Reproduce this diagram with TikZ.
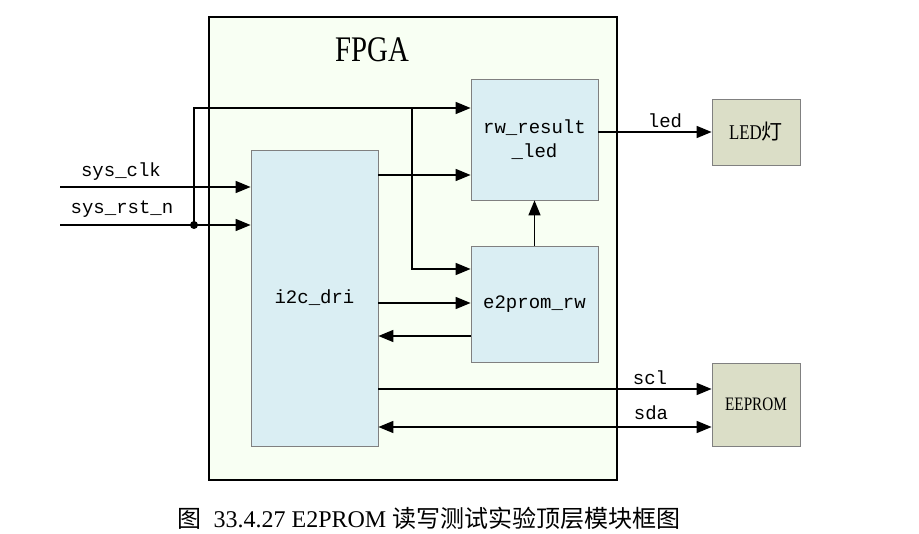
\documentclass[tikz,border=0pt]{standalone}
\usepackage{fontspec}
\setmainfont{Liberation Serif}
\setmonofont{Liberation Mono}
\newfontfamily\cjk{Noto Sans CJK SC}
\newfontfamily\condserif[FakeStretch=0.8]{Liberation Serif}
\usetikzlibrary{arrows.meta,calc}

\definecolor{fpgabg}{RGB}{248,255,243}
\definecolor{modbg}{RGB}{218,238,243}
\definecolor{extbg}{RGB}{219,222,199}
\definecolor{modline}{RGB}{128,128,128}

\tikzset{
    module/.style={draw=modline, line width=0.8pt, fill=modbg, rectangle, inner sep=0pt,
        font=\fontsize{19}{24}\selectfont\ttfamily, align=center},
    extern/.style={draw=modline, line width=0.8pt, fill=extbg, rectangle, inner sep=0pt,
        font=\fontsize{19}{22}\selectfont\condserif},
    sig/.style={line width=1.5pt, -{Triangle[length=15pt,width=12pt]}},
    signame/.style={font=\fontsize{19}{22}\selectfont\ttfamily, inner sep=0pt}
}

\begin{document}
\begin{tikzpicture}[x=1pt, y=-1pt]
    \useasboundingbox[fill=white] (0,0) rectangle (919,534);

    % FPGA frame
    \node[draw, line width=2.5pt, fill=fpgabg, minimum width=408pt, minimum height=463pt,
        inner sep=0pt] (fpga) at (413,248.5) {};
    \node[font=\fontsize{36}{40}\selectfont\condserif] (fpgalabel) at (372,50) {FPGA};

    % modules inside the FPGA
    \node[module, minimum width=127pt, minimum height=296pt] (i2c) at (314.5,298) {i2c\_dri};
    \node[module, minimum width=127pt, minimum height=121pt] (rwled) at (534.5,139.5) {rw\_result\\\_led};
    \node[module, minimum width=127pt, minimum height=116pt] (e2rw) at (534.5,304) {e2prom\_rw};

    % external devices
    \node[extern, minimum width=88pt, minimum height=66pt] (led) at (756,132) {\fontsize{21}{24}\selectfont LED{\cjk 灯}};
    \node[extern, minimum width=88pt, minimum height=83pt] (eeprom) at (756,404.5) {EEPROM};

    % clock and reset inputs
    \coordinate (clkin) at (60,187);
    \coordinate (rstin) at (60,225);
    \coordinate (rstdot) at (194,225);
    \coordinate (rsttop) at (194,108);
    \coordinate (rstbr) at (412,108);
    \draw[sig] (clkin) -- (clkin -| i2c.west);
    \draw[sig] (rstin) -- (rstin -| i2c.west);
    \fill (rstdot) circle (4pt);
    \draw[sig] (rstdot) -- (rsttop) -- (rwled.west |- rsttop);
    \draw[sig] (rstbr) -- (rstbr |- 0,269) -- (e2rw.west |- 0,269);
    \node[signame] (clkname) at (121,172) {sys\_clk};
    \node[signame] (rstname) at (122,209) {sys\_rst\_n};

    % links between modules
    \draw[sig] (i2c.east |- 0,175) -- (rwled.west |- 0,175);
    \draw[sig] (i2c.east |- 0,303) -- (e2rw.west |- 0,303);
    \draw[sig] (e2rw.west |- 0,336) -- (i2c.east |- 0,336);
    \draw[sig] (e2rw.north) -- (rwled.south);

    % outputs
    \draw[sig] (rwled.east |- led.west) -- (led.west);
    \draw[sig] (i2c.east |- 0,389) -- (eeprom.west |- 0,389);
    \draw[sig, {Triangle[length=15pt,width=12pt]}-{Triangle[length=15pt,width=12pt]}]
        (i2c.east |- 0,427) -- (eeprom.west |- 0,427);
    \node[signame] (ledname) at (665,121) {led};
    \node[signame] (sclname) at (650,378) {scl};
    \node[signame] (sdaname) at (651,413) {sda};

    % caption
    \node[font=\fontsize{24}{28}\selectfont] (caption) at (429,518)
        {{\cjk 图}\ \ 33.4.27 E2PROM {\cjk 读写测试实验顶层模块框图}};
\end{tikzpicture}
\end{document}
